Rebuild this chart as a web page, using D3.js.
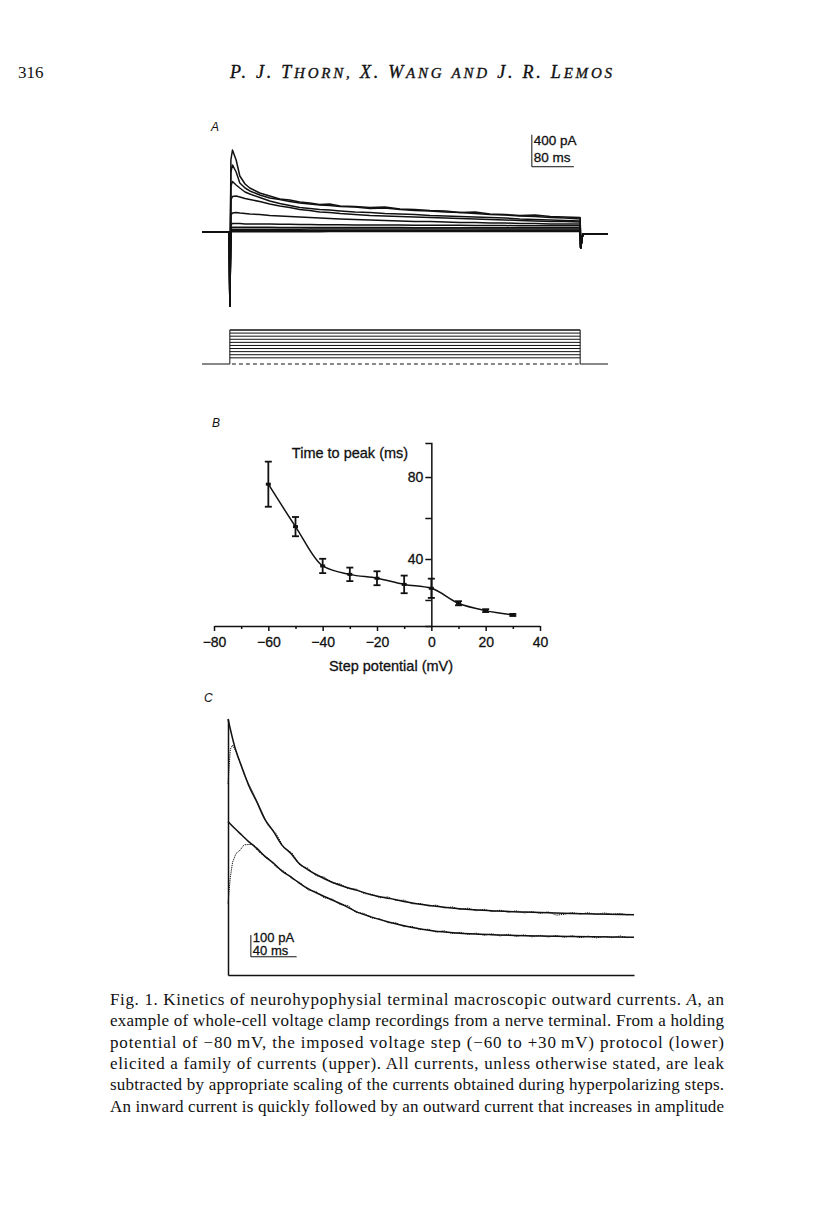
<!DOCTYPE html>
<html>
<head>
<meta charset="utf-8">
<title>Fig. 1. Kinetics of neurohypophysial terminal outward currents</title>
<script src="https://d3js.org/d3.v7.min.js"></script>
<style>
  body { margin: 0; background: #fff; }
  svg text { font-family: "Liberation Sans", Arial, sans-serif; fill: #111; }
  .sans { stroke: #111; stroke-width: 0.3px; }
  .trace { fill: none; stroke: #111; stroke-width: 1.5px; stroke-linejoin: round; }
  .thin { fill: none; stroke: #111; stroke-width: 1px; }
  .serif { font-family: "Liberation Serif", "Times New Roman", serif !important; }
  .axis path, .axis line { stroke: #111; stroke-width: 1.5px; }
  .axis text { font-size: 14px; fill: #111; stroke: #111; stroke-width: 0.3px; }
</style>
</head>
<body>
<svg id="page" width="816" height="1206"></svg>
<script>
// ---------- panel A: currents (pA) for each voltage step, times in ms after step onset
var stepPotentials = [-60, -50, -40, -30, -20, -10, 0, 10, 20, 30];
var holdingPotential = -80;
var traceTimes = [2, 5, 12, 19, 29, 38, 57, 76, 95, 114, 133, 152, 171, 190, 210,
  238, 267, 295, 324, 352, 381, 410, 438, 467, 495, 524, 552, 581, 610, 638, 667];
var currM60 = [2, 3, 3, 3, 3, 3, 4, 4, 4, 4, 4, 4, 4, 5, 5, 5, 5, 5, 5, 5, 5, 6, 6, 6, 6, 6, 6, 6, 6, 6, 6];
var currM50 = [14, 16, 16, 17, 17, 17, 17, 18, 18, 18, 18, 18, 19, 19, 19, 19, 19, 19, 20, 20, 20, 20, 20, 20, 21, 21, 21, 21, 21, 21, 21];
var currM40 = [30, 34, 34, 34, 34, 34, 35, 35, 35, 35, 35, 36, 36, 36, 36, 36, 36, 37, 37, 37, 37, 37, 37, 38, 38, 38, 38, 38, 38, 38, 38];
var currM30 = [50, 60, 60, 59, 59, 58, 58, 58, 57, 57, 57, 56, 56, 56, 56, 55, 55, 55, 55, 54, 54, 54, 54, 54, 53, 53, 53, 53, 53, 53, 52];
var currM20 = [88, 106, 106, 106, 100, 100, 100, 100, 98, 96, 95, 94, 92, 92, 90, 89, 88, 88, 86, 85, 84, 83, 83, 81, 81, 80, 79, 79, 78, 77, 77];
var currM10 = [213, 238, 244, 238, 231, 225, 219, 206, 200, 194, 188, 181, 175, 169, 163, 156, 150, 144, 138, 131, 131, 125, 119, 119, 113, 113, 106, 106, 100, 100, 100];
var curr0 = [400, 444, 450, 438, 419, 406, 381, 350, 325, 306, 281, 269, 250, 244, 231, 219, 206, 200, 194, 188, 181, 175, 169, 163, 156, 150, 144, 138, 131, 131, 125];
var currP10 = [575, 631, 588, 550, 500, 475, 431, 388, 356, 331, 306, 294, 281, 275, 263, 250, 244, 231, 225, 219, 206, 200, 194, 188, 181, 175, 163, 156, 150, 144, 138];
var currP20 = [750, 838, 750, 613, 550, 513, 463, 425, 406, 381, 363, 350, 338, 331, 319, 313, 294, 300, 281, 269, 263, 250, 244, 231, 219, 213, 200, 194, 181, 175, 163];
var currP30 = [900, 1025, 900, 700, 600, 550, 488, 450, 413, 400, 375, 363, 344, 350, 325, 319, 306, 313, 288, 281, 269, 263, 244, 250, 225, 219, 206, 213, 194, 188, 181];
var onsetSpike = -925;     // pA, capacitive/inward transient at step onset
var offsetTail = -200;     // pA, tail at step offset
var afterLevel = -28;      // pA, holding current after the step
var sweepStart = -53, stepEnd = 667, sweepEnd = 720;   // ms

// ---------- panel B: time to peak vs step potential
var bSteps = [-60, -50, -40, -30, -20, -10, 0, 10, 20, 30];           // mV
var bTimeToPeak = [76.5, 55.8, 36.6, 32.5, 30.6, 27.6, 25.7, 18.4, 14.8, 12.7]; // ms
var bError = [11, 4.7, 3.5, 3.3, 3.4, 4.3, 4.7, 1, 0.7, 0.5];        // ms
var bXTicks = [-80, -70, -60, -50, -40, -30, -20, -10, 0, 10, 20, 30, 40];
var bYTicks = [20, 40, 60, 80];

// ---------- panel C: single-exponential fits (pA) and recorded currents
var cFitTimes = [0, 6, 12, 18, 25, 32, 40, 47, 55, 62, 70, 80, 90, 100, 113, 125, 142, 160, 180, 200, 230, 260, 300, 355];
var cFitUpper = [1180, 1050, 960, 875, 800, 720, 660, 600, 560, 515, 485, 455, 430, 410, 390, 370, 352, 333, 318, 306, 296, 290, 284, 278];
var cFitLower = [708, 675, 645, 615, 585, 548, 515, 480, 452, 425, 398, 372, 348, 325, 290, 268, 242, 220, 203, 194, 186, 181, 177, 174];
var cRecTimes = [0, 2, 4, 7, 10, 14, 21, 28, 35, 42, 49, 56, 63, 70, 77, 84, 91, 98, 105, 112, 119, 126,
  133, 140, 147, 154, 161, 168, 175, 182, 189, 196, 203, 210, 217, 224, 231, 238, 245, 252, 259, 266,
  273, 280, 287, 294, 301, 308, 315, 322, 329, 336, 343, 350];
var cRecUpper = [880, 1040, 1060, 1030, 985, 925, 850, 770, 690, 652, 585, 562, 505, 492, 458, 452, 425, 420, 398, 396, 375, 372,
  356, 360, 343, 345, 328, 330, 318, 322, 309, 314, 302, 308, 296, 303, 292, 299, 289, 296, 286, 292,
  284, 291, 276, 280, 288, 281, 287, 279, 286, 280, 284, 276];
var cRecLower = [330, 450, 520, 560, 572, 600, 602, 562, 540, 498, 478, 444, 426, 392, 384, 356, 350, 325, 320, 288, 284, 262,
  259, 241, 240, 223, 224, 209, 211, 198, 204, 191, 197, 187, 193, 183, 190, 180, 188, 178, 185, 176,
  183, 175, 182, 174, 181, 172, 179, 171, 178, 172, 180, 171];

var headWords = ["P.", "J.", "THORN,", "X.", "WANG", "AND", "J.", "R.", "LEMOS"];
var captionLines = [
  "Fig. 1. Kinetics of neurohypophysial terminal macroscopic outward currents. |A|, an",
  "example of whole-cell voltage clamp recordings from a nerve terminal. From a holding",
  "potential of \u221280\u2009mV, the imposed voltage step (\u221260 to +30\u2009mV) protocol (lower)",
  "elicited a family of currents (upper). All currents, unless otherwise stated, are leak",
  "subtracted by appropriate scaling of the currents obtained during hyperpolarizing steps.",
  "An inward current is quickly followed by an outward current that increases in amplitude"
];

var svg = d3.select("#page");
svg.append("rect").attr("width", 816).attr("height", 1206).attr("fill", "#fff");

// running head, small caps done by hand
svg.append("text").attr("class", "serif").attr("x", 18).attr("y", 78)
  .style("font-size", "17px").text("316");
var head = svg.append("text").attr("class", "serif").attr("x", 230).attr("y", 78)
  .style("font-size", "18px").style("font-style", "italic")
  .attr("stroke", "#111").attr("stroke-width", 0.35)
  .attr("textLength", 382).attr("lengthAdjust", "spacing");
headWords.forEach(function(w, i) {
  var big = w === "AND" ? "" : w[0], rest = w === "AND" ? w : w.slice(1);
  head.append("tspan").style("font-size", "18px").text((i ? "  " : "") + big);
  if (rest) head.append("tspan").style("font-size", /^[A-Z]/.test(rest) ? "15px" : "18px").text(rest);
});

// ================= panel A =================
var xA = d3.scaleLinear().domain([sweepStart, sweepEnd]).range([202, 608]);
var yA = d3.scaleLinear().domain([0, 400]).range([232, 200]);
var lineA = d3.line().x(function(d) { return xA(d[0]); }).y(function(d) { return yA(d[1]); });

svg.append("text").attr("x", 211).attr("y", 131).style("font-size", "12px")
  .style("font-style", "italic").text("A");

var allCurrents = [currM60, currM50, currM40, currM30, currM20, currM10, curr0, currP10, currP20, currP30];
allCurrents.forEach(function(vals) {
  var pts = [[sweepStart, 0], [-1, 0], [0, onsetSpike]];
  traceTimes.forEach(function(t, i) { pts.push([t, vals[i]]); });
  pts.push([stepEnd + 1, offsetTail], [stepEnd + 5, afterLevel], [sweepEnd, afterLevel]);
  svg.append("path").datum(pts).attr("class", "trace").attr("d", lineA);
});

// scale bar 400 pA / 80 ms
var barA = {t: 575, i: 816};
svg.append("path").attr("class", "thin").attr("stroke-width", 1.4)
  .attr("d", "M" + xA(barA.t) + "," + yA(barA.i + 400) + "V" + yA(barA.i) + "H" + xA(barA.t + 80));
svg.append("text").attr("class", "sans").attr("x", xA(barA.t) + 2).attr("y", yA(barA.i) - 22)
  .style("font-size", "13.5px").text("400 pA");
svg.append("text").attr("class", "sans").attr("x", xA(barA.t) + 2).attr("y", yA(barA.i) - 5)
  .style("font-size", "13.5px").text("80 ms");

// voltage protocol
var yV = d3.scaleLinear().domain([holdingPotential, 30]).range([364, 330]);
var lineV = d3.line().x(function(d) { return xA(d[0]); }).y(function(d) { return yV(d[1]); });
var topStep = d3.max(stepPotentials);
svg.append("path").datum([[sweepStart, holdingPotential], [0, holdingPotential], [0, topStep], [stepEnd, topStep],
    [stepEnd, holdingPotential], [sweepEnd, holdingPotential]])
  .attr("class", "thin").attr("stroke-width", 1.4).attr("d", lineV);
stepPotentials.forEach(function(v) {
  svg.append("path").datum([[0, v], [stepEnd, v]]).attr("class", "thin").attr("d", lineV);
});
svg.append("path").datum([[4, holdingPotential], [stepEnd - 3, holdingPotential]])
  .attr("class", "thin").attr("stroke-width", 1.3).attr("stroke-dasharray", "4,3").attr("d", lineV);

// ================= panel B =================
var xB = d3.scaleLinear().domain([-80, 40]).range([214, 540]);
var yB = d3.scaleLinear().domain([7.3, 96.6]).range([626, 443]);

svg.append("text").attr("x", 212).attr("y", 427).style("font-size", "12px")
  .style("font-style", "italic").text("B");

var gx = svg.append("g").attr("class", "axis").attr("transform", "translate(0," + yB(7.3) + ")")
  .call(d3.axisBottom(xB).tickValues(bXTicks).tickSizeOuter(0)
    .tickFormat(function(d) { return d % 20 === 0 ? d3.format("")(d) : ""; }));
gx.selectAll(".tick line").attr("y2", function(d) { return d % 20 === 0 ? 5 : 3; });
gx.selectAll(".tick text").attr("y", 11).attr("dy", "0.71em");

var gy = svg.append("g").attr("class", "axis").attr("transform", "translate(" + xB(0) + ",0)")
  .call(d3.axisLeft(yB).tickValues(bYTicks).tickSizeOuter(0).tickSize(6)
    .tickFormat(function(d) { return d % 40 === 0 ? d : ""; }));
gy.selectAll(".tick text").attr("x", -8);

svg.append("text").attr("class", "sans").attr("x", 350).attr("y", 458).attr("text-anchor", "middle")
  .style("font-size", "14.5px").text("Time to peak (ms)");
svg.append("text").attr("class", "sans").attr("x", 391).attr("y", 671).attr("text-anchor", "middle")
  .style("font-size", "14.5px").text("Step potential (mV)");

var lineB = d3.line().curve(d3.curveMonotoneX)
  .x(function(d, i) { return xB(bSteps[i]); })
  .y(function(d) { return yB(d); });
svg.append("path").datum(bTimeToPeak).attr("class", "trace").attr("stroke-width", 1.8).attr("d", lineB);

var bars = svg.append("g").attr("stroke", "#111").attr("stroke-width", 1.8);
bSteps.forEach(function(s, i) {
  var x = xB(s), lo = yB(bTimeToPeak[i] - bError[i]), hi = yB(bTimeToPeak[i] + bError[i]);
  bars.append("line").attr("x1", x).attr("x2", x).attr("y1", lo).attr("y2", hi);
  bars.append("line").attr("x1", x - 3.5).attr("x2", x + 3.5).attr("y1", lo).attr("y2", lo);
  bars.append("line").attr("x1", x - 3.5).attr("x2", x + 3.5).attr("y1", hi).attr("y2", hi);
  svg.append("rect").attr("x", x - 2.5).attr("y", yB(bTimeToPeak[i]) - 1.5).attr("width", 5).attr("height", 3).attr("fill", "#111");
});

// ================= panel C =================
var xC = d3.scaleLinear().domain([0, 355]).range([228, 634]);
var yC = d3.scaleLinear().domain([0, 1180]).range([975, 719]);

svg.append("text").attr("x", 204).attr("y", 702).style("font-size", "12px")
  .style("font-style", "italic").text("C");

svg.append("g").attr("class", "axis").attr("transform", "translate(0," + yC(0) + ")")
  .call(d3.axisBottom(xC).tickValues([]).tickSizeOuter(0));
svg.append("g").attr("class", "axis").attr("transform", "translate(" + xC(0) + ",0)")
  .call(d3.axisLeft(yC).tickValues([]).tickSizeOuter(0));

var lineC = d3.line().x(function(d) { return xC(d[0]); }).y(function(d) { return yC(d[1]); });
var fitLine = d3.line().curve(d3.curveMonotoneX).x(function(d) { return xC(d[0]); }).y(function(d) { return yC(d[1]); });

[cRecUpper, cRecLower].forEach(function(vals) {
  svg.append("path").datum(cRecTimes.map(function(t, i) { return [t, vals[i]]; }))
    .attr("class", "thin").attr("stroke-width", 1.4).attr("stroke-dasharray", "1.3,0.9").attr("d", lineC);
});
[cFitUpper, cFitLower].forEach(function(vals) {
  svg.append("path").datum(cFitTimes.map(function(t, i) { return [t, vals[i]]; }))
    .attr("class", "trace").attr("stroke-width", 1.5).attr("d", fitLine);
});

// scale bar 100 pA / 40 ms
var barC = {t: 20, i: 84};
svg.append("path").attr("class", "thin").attr("stroke-width", 1.4)
  .attr("d", "M" + xC(barC.t) + "," + yC(barC.i + 100) + "V" + yC(barC.i) + "H" + xC(barC.t + 40));
svg.append("text").attr("class", "sans").attr("x", xC(barC.t) + 2).attr("y", yC(barC.i) - 15)
  .style("font-size", "13px").text("100 pA");
svg.append("text").attr("class", "sans").attr("x", xC(barC.t) + 2).attr("y", yC(barC.i) - 1.5)
  .style("font-size", "13px").text("40 ms");

// ================= caption =================
captionLines.forEach(function(line, k) {
  var t = svg.append("text").attr("class", "serif").attr("x", 110).attr("y", 1005 + k * 21.3)
    .style("font-size", "17px").attr("textLength", 614).attr("lengthAdjust", "spacing");
  line.split("|").forEach(function(part, j) {
    t.append("tspan").style("font-style", j % 2 ? "italic" : "normal").text(part);
  });
});
</script>
</body>
</html>
